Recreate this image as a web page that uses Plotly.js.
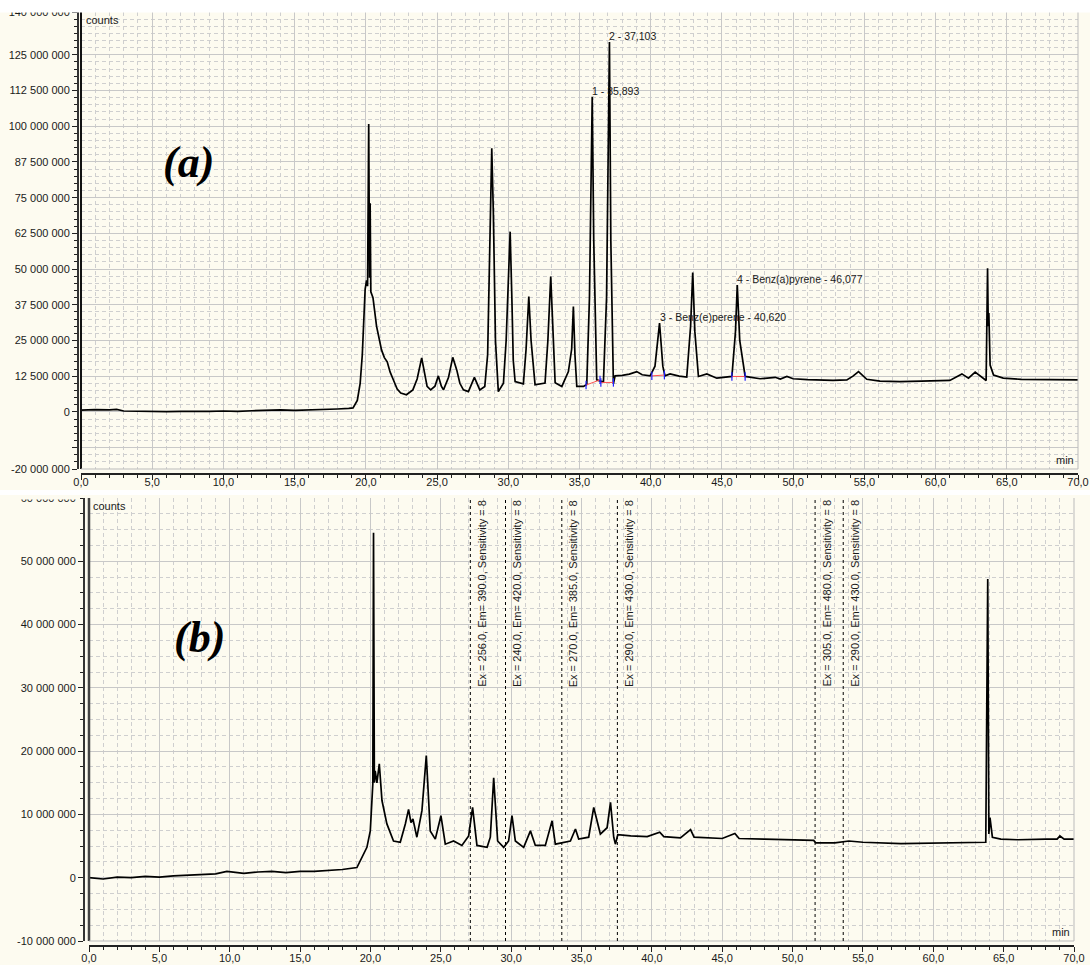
<!DOCTYPE html>
<html><head><meta charset="utf-8">
<script src="https://cdn.plot.ly/plotly-3.0.1.min.js"></script>
<style>html,body{margin:0;padding:0;background:#fff}#chart{width:1090px;height:965px}</style>
</head><body><div id="chart"></div>
<script>
// ---------- Panel (a) chromatogram (time in min, counts in millions) ----------
const timeA = [0.0,1.0,2.0,2.5,3.0,4.0,5.0,6.0,7.0,8.0,9.0,10.0,11.0,12.0,13.0,14.0,15.0,16.0,17.0,18.0,18.8,19.1,19.4,19.6,19.75,19.85,19.95,20.05,20.12,20.2,20.26,20.3,20.35,20.5,20.75,21.1,21.3,21.5,21.7,21.95,22.2,22.45,22.85,23.3,23.6,23.92,24.1,24.3,24.55,24.85,25.09,25.3,25.45,25.8,26.1,26.38,26.6,26.85,27.2,27.62,28.0,28.35,28.55,28.7,28.84,28.95,29.1,29.3,29.66,29.85,30.0,30.13,30.25,30.35,30.48,31.06,31.25,31.44,31.6,31.88,32.58,32.78,32.98,33.15,33.29,33.76,34.22,34.45,34.57,34.68,34.81,35.28,35.51,35.7,35.893,36.0,36.21,36.68,36.9,37.103,37.2,37.38,37.5,38.0,38.5,39.02,39.4,39.96,40.3,40.62,40.85,41.0,41.36,42.0,42.53,42.8,42.95,43.1,43.35,43.94,44.64,45.7,45.95,46.077,46.25,46.63,47.68,48.74,49.1,49.56,50.0,51.0,52.8,53.77,54.2,54.59,54.9,55.17,56.1,57.5,59.0,61.0,61.85,62.31,62.78,63.3,63.55,63.65,63.7,63.74,63.83,64.07,64.75,66.0,68.0,70.0];
const countsA_M = [0.6,0.8,0.7,0.9,0.3,0.2,0.2,0.1,0.2,0.1,0.2,0.3,0.2,0.4,0.6,0.7,0.5,0.6,0.9,1.0,1.2,1.4,4.0,10.0,20.0,32.0,43.0,46.0,44.0,100.8,47.0,73.0,42.0,40.0,30.0,21.7,19.0,17.5,14.0,11.0,8.0,6.6,6.0,7.7,11.5,18.9,14.0,8.9,7.7,9.0,12.6,9.0,7.7,12.0,19.1,14.7,10.0,7.7,7.1,12.1,7.7,8.9,20.0,60.0,92.3,70.0,25.0,7.1,10.0,25.0,50.0,63.1,40.0,18.0,10.6,9.8,22.0,40.4,25.0,9.5,10.1,25.0,47.4,25.0,10.2,8.9,14.1,22.0,36.9,20.0,8.9,8.9,9.6,40.0,110.3,60.0,11.2,10.4,40.0,129.5,60.0,9.8,12.6,12.8,13.2,14.1,13.0,12.6,16.0,31.1,16.0,12.6,13.3,12.5,12.2,30.0,48.8,28.0,12.4,13.3,11.8,12.4,28.0,44.4,25.0,12.4,11.6,12.1,11.5,12.4,11.6,11.3,11.0,11.2,12.5,14.1,12.5,11.4,10.8,10.6,10.8,11.0,13.3,11.8,13.9,12.0,11.0,50.3,30.0,34.6,16.4,12.9,11.8,11.4,11.3,11.2];

// integration baselines (panel a)
const baseTimeA = [35.46,36.44,null,36.5,37.38,null,40.08,40.96,null,45.7,46.63];
const baseCountsA_M = [9.4,11.2,null,10.3,10.3,null,12.6,12.9,null,12.4,12.4];

// peak labels (panel a)
const peakTimeA = [35.893,37.103,40.62,46.077];
const peakTopA_M = [110.3,129.5,31.1,44.4];
const peakLabelA = ["1 - 35,893","2 - 37,103","3 - Benz(e)perene - 40,620","4 - Benz(a)pyrene - 46,077"];

// ---------- Panel (b) chromatogram ----------
const timeB = [0.0,1.0,2.0,3.0,4.0,5.0,6.0,7.0,8.0,9.0,9.8,10.5,11.0,12.0,13.0,14.0,15.0,16.0,17.0,18.0,19.04,19.4,19.75,19.99,20.1,20.17,20.22,20.28,20.34,20.46,20.63,20.82,21.17,21.64,22.12,22.48,22.71,22.88,23.02,23.3,23.66,23.97,24.25,24.61,25.01,25.32,25.91,26.5,26.98,27.26,27.57,28.29,28.52,28.76,29.04,29.47,29.82,30.06,30.3,30.89,31.37,31.72,32.43,32.91,33.14,33.73,34.21,34.57,34.8,35.51,35.87,36.34,36.82,37.06,37.29,37.41,37.58,38.5,39.67,40.56,40.85,42.03,42.75,43.0,44.0,45.0,45.9,46.2,48.0,50.0,51.5,51.65,53.0,54.0,55.0,57.7,60.0,62.0,63.73,63.87,63.95,64.03,64.2,64.8,66.0,68.0,68.8,69.0,69.3,70.0];
const countsB_M = [0.0,-0.2,0.1,0.0,0.2,0.1,0.3,0.4,0.5,0.6,1.0,0.8,0.7,0.9,1.0,0.8,1.0,1.0,1.1,1.3,1.6,3.2,4.8,7.4,12.0,14.8,54.5,15.0,16.9,15.0,18.0,12.2,8.5,5.8,5.6,8.5,10.8,8.7,9.3,6.4,10.6,19.3,7.4,6.1,9.8,5.3,5.8,5.1,6.6,11.1,5.1,4.8,6.4,15.8,5.8,4.8,5.8,9.8,5.8,4.8,7.4,5.1,5.1,9.0,5.3,5.6,5.8,7.7,6.1,6.4,11.1,6.9,7.9,11.9,6.4,5.3,6.8,6.6,6.5,7.2,6.5,6.3,7.6,6.4,6.3,6.2,7.0,6.2,6.1,6.0,5.9,5.5,5.5,5.8,5.6,5.4,5.5,5.6,5.6,47.2,6.9,9.5,6.4,6.1,6.0,6.1,6.1,6.6,6.1,6.1];

// detector program events (panel b)
const eventTimeB = [27.1,29.6,33.6,37.55,51.6,53.6];
const eventEx = ["256.0","240.0","270.0","290.0","305.0","290.0"];
const eventEm = ["390.0","420.0","385.0","430.0","480.0","430.0"];
const eventSens = ["8","8","8","8","8","8"];

// ---------- tick labels ----------
const xTickVals = [0,5,10,15,20,25,30,35,40,45,50,55,60,65,70];
const xTickText = ["0,0","5,0","10,0","15,0","20,0","25,0","30,0","35,0","40,0","45,0","50,0","55,0","60,0","65,0","70,0"];
const yTickValsA_M = [-20,-12.5,0,12.5,25,37.5,50,62.5,75,87.5,100,112.5,125,140];
const yTickTextA = ["-20 000 000","","0","12 500 000","25 000 000","37 500 000","50 000 000","62 500 000","75 000 000","87 500 000","100 000 000","112 500 000","125 000 000","140 000 000"];
const yTickValsB_M = [-10,0,10,20,30,40,50,60];
const yTickTextB = ["-10 000 000","0","10 000 000","20 000 000","30 000 000","40 000 000","50 000 000","60 000 000"];

// ---------- build ----------
const M = 1e6;
const toCounts = arr => arr.map(v => v === null ? null : v * M);

const traces = [
  {x: timeA, y: toCounts(countsA_M), xaxis:'x', yaxis:'y', type:'scatter', mode:'lines',
   line:{color:'#000', width:1.7}, hoverinfo:'skip'},
  {x: baseTimeA, y: toCounts(baseCountsA_M), xaxis:'x', yaxis:'y', type:'scatter', mode:'lines+markers',
   line:{color:'#ff5050', width:1}, marker:{symbol:'line-ns-open', size:6, color:'#2020ff', line:{width:1.2, color:'#2020ff'}},
   connectgaps:false, hoverinfo:'skip'},
  {x: timeB, y: toCounts(countsB_M), xaxis:'x2', yaxis:'y2', type:'scatter', mode:'lines',
   line:{color:'#000', width:1.7}, hoverinfo:'skip'}
];

const fontTick = {family:'Liberation Sans, Arial, sans-serif', size:11, color:'#1a1a1a'};
const gridMajor = '#c8c8c8';
const gridMinor = '#cfcfcf';

function xAxis(domain, pos, standoff) {
  return {domain: domain, range:[0,70], anchor:'free', position: pos,
    tickmode:'array', tickvals: xTickVals, ticktext: xTickText,
    showline:true, linecolor:'#222', linewidth:1.5,
    ticks:'outside', ticklen:5, tickwidth:1, tickcolor:'#222', ticklabelstandoff: standoff,
    showgrid:true, gridcolor:gridMajor, gridwidth:1, zeroline:false,
    tickfont: fontTick, fixedrange:true,
    minor:{tickmode:'linear', tick0:0, dtick:1, showgrid:true, gridcolor:gridMinor, griddash:'4px,3px', gridwidth:1,
           ticks:'outside', ticklen:3, tickcolor:'#222', tickwidth:1}};
}
function yAxis(domain, range, vals, text, pos) {
  return {domain: domain, range: range, anchor:'free', position: pos,
    tickmode:'array', tickvals: vals.map(v=>v*M), ticktext: text,
    showline:true, linecolor:'#333', linewidth:1.5,
    ticks:'outside', ticklen:5, tickwidth:1, tickcolor:'#222',
    showgrid:true, gridcolor:gridMajor, gridwidth:1, zeroline:false,
    tickfont: fontTick, fixedrange:true,
    minor:{tickmode:'linear', tick0:0, dtick:2.5*M, showgrid:true, gridcolor:gridMinor, griddash:'4px,3px', gridwidth:1,
           ticks:'outside', ticklen:3, tickcolor:'#222', tickwidth:1}};
}

const cream = '#fdfbf0';
const shapes = [
  // backgrounds
  {type:'rect', xref:'paper', yref:'paper', x0:0, x1:1, y0:(965-490)/965, y1:(965-12)/965, fillcolor:cream, line:{width:0}, layer:'below'},
  {type:'rect', xref:'paper', yref:'paper', x0:0, x1:1, y0:0, y1:(965-495)/965, fillcolor:cream, line:{width:0}, layer:'below'},
  // plot frames
  {type:'line', xref:'x domain', yref:'y domain', x0:0, x1:0, y0:0, y1:1, line:{color:'#111', width:2}},
  {type:'line', xref:'x domain', yref:'y domain', x0:1, x1:1, y0:0, y1:1, line:{color:'#bbb', width:1}},
  {type:'line', xref:'x domain', yref:'y domain', x0:0, x1:1, y0:0, y1:0, line:{color:'#bbb', width:1}},
  {type:'line', xref:'x2 domain', yref:'y2 domain', x0:0, x1:0, y0:0, y1:1, line:{color:'#444', width:2.5}},
  {type:'line', xref:'x2 domain', yref:'y2 domain', x0:1, x1:1, y0:0, y1:1, line:{color:'#bbb', width:1}},
  {type:'line', xref:'x2 domain', yref:'y2 domain', x0:0, x1:1, y0:0, y1:0, line:{color:'#bbb', width:1}},
  // bands cutting off the top tick labels
  {type:'rect', xref:'paper', yref:'paper', x0:0, x1:1, y0:(965-12.5)/965, y1:1, fillcolor:'#fff', line:{width:0}, layer:'above'},
  {type:'rect', xref:'paper', yref:'paper', x0:0, x1:1, y0:(965-495)/965, y1:(965-490)/965, fillcolor:'#fff', line:{width:0}, layer:'above'},
  {type:'rect', xref:'paper', yref:'paper', x0:0, x1:80/1090, y0:(965-499.5)/965, y1:(965-495)/965, fillcolor:cream, line:{width:0}, layer:'above'}
];
eventTimeB.forEach(t => shapes.push({type:'line', xref:'x2', yref:'y2 domain', x0:t, x1:t, y0:0, y1:1,
  line:{color:'#000', width:1, dash:'dot'}}));

const annFont = {family:'Liberation Sans, Arial, sans-serif', size:10.5, color:'#1a1a1a'};
const annotations = [];
peakTimeA.forEach((t,i) => annotations.push({xref:'x', yref:'y', x:t, y:peakTopA_M[i]*M, text:peakLabelA[i],
  showarrow:false, xanchor:'left', yanchor:'bottom', xshift:-2, yshift:-2, font:annFont}));
eventTimeB.forEach((t,i) => annotations.push({xref:'x2', yref:'y2 domain', x:t, y:1,
  text:'Ex = '+eventEx[i]+', Em= '+eventEm[i]+', Sensitivity = '+eventSens[i],
  showarrow:false, textangle:-90, xanchor:'center', yanchor:'top', xshift:11, font:{family:'Liberation Sans, Arial, sans-serif', size:11, color:'#1a1a1a'}}));
// axis unit labels
annotations.push({xref:'x domain', yref:'y domain', x:0, y:1, text:'counts', showarrow:false, xanchor:'left', yanchor:'top', xshift:3, yshift:0, font:fontTick});
annotations.push({xref:'x domain', yref:'y domain', x:1, y:0, text:'min', showarrow:false, xanchor:'right', yanchor:'bottom', xshift:-2, yshift:1, font:fontTick});
annotations.push({xref:'x2 domain', yref:'y2 domain', x:0, y:1, text:'counts', showarrow:false, xanchor:'left', yanchor:'top', xshift:2, yshift:0, font:fontTick});
annotations.push({xref:'x2 domain', yref:'y2 domain', x:1, y:0, text:'min', showarrow:false, xanchor:'right', yanchor:'bottom', xshift:-2, yshift:1, font:fontTick});
// panel letters
const letterFont = {family:'Liberation Serif, Times New Roman, serif', size:44, color:'#000'};
annotations.push({xref:'paper', yref:'paper', x:188/1090, y:(965-163)/965, text:'<b><i>(a)</i></b>', showarrow:false, xanchor:'center', yanchor:'middle', font:letterFont});
annotations.push({xref:'paper', yref:'paper', x:199/1090, y:(965-637)/965, text:'<b><i>(b)</i></b>', showarrow:false, xanchor:'center', yanchor:'middle', font:letterFont});

const layout = {
  width:1090, height:965, margin:{l:0,r:0,t:0,b:0}, showlegend:false,
  paper_bgcolor:'#fff', plot_bgcolor:'rgba(0,0,0,0)',
  xaxis: xAxis([81/1090, 1078/1090], (965-473)/965, -7),
  yaxis: yAxis([(965-469)/965, (965-12)/965], [-20*M, 140*M], yTickValsA_M, yTickTextA, 77/1090),
  xaxis2: xAxis([89/1090, 1074/1090], (965-945)/965, -3),
  yaxis2: yAxis([(965-941)/965, (965-498)/965], [-10*M, 60*M], yTickValsB_M, yTickTextB, 83/1090),
  shapes: shapes, annotations: annotations
};
Plotly.newPlot('chart', traces, layout, {staticPlot:true, displayModeBar:false});
</script></body></html>
